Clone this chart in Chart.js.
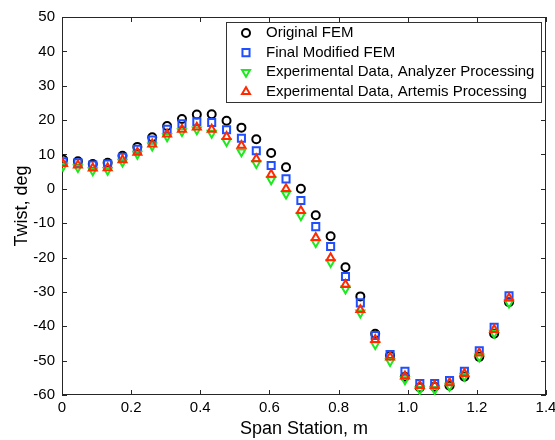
<!DOCTYPE html>
<html><head><meta charset="utf-8">
<script src="https://cdn.jsdelivr.net/npm/chart.js@4/dist/chart.umd.min.js"></script>
<style>html,body{margin:0;padding:0;background:#fff}</style>
</head><body>
<canvas id="c" width="555" height="440" style="display:block"></canvas>
<script>
// ---- data ----
const spanStation = [0.003,0.046,0.089,0.132,0.175,0.218,0.261,0.304,0.347,0.390,0.433,0.476,0.519,0.562,0.605,0.648,0.691,0.734,0.777,0.820,0.863,0.906,0.949,0.992,1.035,1.078,1.121,1.164,1.207,1.250,1.293];
const originalFEM = [8.5,8.0,7.2,7.6,9.6,12.2,15.0,18.3,20.3,21.6,21.7,19.8,17.8,14.4,10.4,6.3,0.0,-7.7,-13.8,-22.8,-31.3,-42.2,-48.5,-54.7,-57.8,-57.6,-57.3,-54.7,-48.9,-42.2,-33.0];
const finalModifiedFEM = [7.9,7.6,6.9,7.2,9.2,11.5,14.2,17.3,18.9,19.5,19.3,17.2,14.7,11.1,6.8,2.9,-3.4,-11.0,-16.8,-25.5,-33.2,-42.7,-48.2,-53.1,-56.7,-56.7,-55.8,-53.1,-47.1,-40.3,-31.1];
const analyzerData = [6.6,6.2,5.3,5.4,7.8,10.1,12.5,15.2,16.7,17.2,16.2,13.8,10.8,7.4,2.7,-1.5,-7.8,-15.6,-21.4,-29.1,-36.1,-45.3,-50.2,-55.5,-58.4,-58.4,-57.4,-54.5,-48.9,-42.0,-33.2];
const artemisData = [7.3,6.9,6.0,6.1,8.4,10.6,13.0,15.9,17.3,17.9,17.3,15.2,12.6,8.7,4.2,0.0,-6.4,-14.2,-20.1,-27.9,-35.2,-43.9,-49.0,-54.5,-57.3,-57.3,-56.5,-53.8,-47.8,-41.0,-31.8];
const seriesLabels = ["Original FEM","Final Modified FEM","Experimental Data, Analyzer Processing","Experimental Data, Artemis Processing"];
const xAxisTitle = "Span Station, m";
const yAxisTitle = "Twist, deg";

const FONT = "'Liberation Sans', Arial, Helvetica, sans-serif";

function pts(ys){ return spanStation.map((x,i)=>({x:x,y:ys[i]})); }

const styles = [
  {color:'#000000', pointStyle:'circle',   radius:4.0, rotation:0},
  {color:'#1f4fff', pointStyle:'rect',     radius:5.0, rotation:0},
  {color:'#1ee81e', pointStyle:'triangle', radius:4.6, rotation:180},
  {color:'#ff2a00', pointStyle:'triangle', radius:4.6, rotation:0}
];
const seriesValues = [originalFEM, finalModifiedFEM, analyzerData, artemisData];

const datasets = seriesValues.map((vals,i)=>({
  label: seriesLabels[i],
  data: pts(vals),
  showLine:false,
  pointStyle: styles[i].pointStyle,
  pointRotation: styles[i].rotation,
  pointRadius: styles[i].radius,
  pointHoverRadius: styles[i].radius,
  pointBorderWidth: 2,
  pointBorderColor: styles[i].color,
  borderColor: styles[i].color,
  pointBackgroundColor: 'rgba(0,0,0,0)',
  backgroundColor: 'rgba(0,0,0,0)',
  order: 4 - i
}));

function drawMarker(ctx, st, x, y){
  ctx.save();
  ctx.strokeStyle = st.color; ctx.lineWidth = 2;
  ctx.beginPath();
  const r = st.radius;
  if (st.pointStyle==='circle'){ ctx.arc(x,y,r,0,Math.PI*2); }
  else if (st.pointStyle==='rect'){ const s=r/Math.SQRT2; ctx.rect(x-s,y-s,2*s,2*s); }
  else {
    const rot = st.rotation*Math.PI/180;
    for (let k=0;k<3;k++){
      const a = rot - Math.PI/2 + k*2*Math.PI/3;
      const px = x + Math.cos(a)*r, py = y + Math.sin(a)*r;
      if(k===0) ctx.moveTo(px,py); else ctx.lineTo(px,py);
    }
    ctx.closePath();
  }
  ctx.stroke();
  ctx.restore();
}

const framePlugin = {
  id:'frame',
  beforeDatasetsDraw(chart){
    const {ctx, chartArea:a, scales:{x,y}} = chart;
    ctx.save();
    ctx.strokeStyle='#262626'; ctx.lineWidth=1;
    ctx.strokeRect(Math.round(a.left)+0.5, Math.round(a.top)+0.5, Math.round(a.right-a.left)-1, Math.round(a.bottom-a.top)-1);
    const tl=5;
    ctx.beginPath();
    x.ticks.forEach(t=>{ const p=Math.round(x.getPixelForValue(t.value))+0.5;
      ctx.moveTo(p,a.bottom); ctx.lineTo(p,a.bottom-tl); ctx.moveTo(p,a.top); ctx.lineTo(p,a.top+tl); });
    y.ticks.forEach(t=>{ const p=Math.round(y.getPixelForValue(t.value))+0.5;
      ctx.moveTo(a.left,p); ctx.lineTo(a.left+tl,p); ctx.moveTo(a.right,p); ctx.lineTo(a.right-tl,p); });
    ctx.stroke();
    ctx.restore();
  }
};

const legendPlugin = {
  id:'boxLegend',
  afterDatasetsDraw(chart, args, o){
    const ctx = chart.ctx;
    ctx.save();
    ctx.fillStyle='#fff';
    ctx.fillRect(o.left, o.top, o.width, o.height);
    ctx.strokeStyle='#333'; ctx.lineWidth=1;
    ctx.strokeRect(o.left+0.5, o.top+0.5, o.width, o.height);
    ctx.font = o.fontSize+'px '+FONT;
    ctx.fillStyle='#000'; ctx.textBaseline='middle'; ctx.textAlign='left';
    seriesLabels.forEach((lab,i)=>{
      const yy = o.top + o.firstRow + i*o.rowH;
      drawMarker(ctx, styles[i], o.left + o.markerX, yy);
      ctx.fillText(lab, o.left + o.textX, yy);
    });
    ctx.restore();
  }
};

new Chart(document.getElementById('c'), {
  type:'scatter',
  data:{datasets},
  plugins:[framePlugin, legendPlugin],
  options:{
    responsive:false, animation:false, events:[],
    layout:{padding:{top:17,right:9,left:0,bottom:0}},
    plugins:{
      legend:{display:false}, tooltip:{enabled:false},
      boxLegend:{left:226,top:22,width:315,height:80,firstRow:11,rowH:19.6,markerX:20,textX:40,fontSize:15}
    },
    scales:{
      x:{
        type:'linear', min:0, max:1.4,
        ticks:{stepSize:0.2, color:'#000', font:{family:FONT,size:15}, padding:4, maxRotation:0},
        grid:{drawOnChartArea:false, drawTicks:false},
        border:{display:false},
        title:{display:true, text:xAxisTitle, color:'#000', font:{family:FONT,size:18}, padding:{top:0,bottom:0}},
        afterFit(s){ s.height = 45; s.paddingLeft = 0; s.paddingRight = 0; }
      },
      y:{
        type:'linear', min:-60, max:50,
        ticks:{stepSize:10, color:'#000', font:{family:FONT,size:15}, padding:7},
        grid:{drawOnChartArea:false, drawTicks:false},
        border:{display:false},
        title:{display:true, text:yAxisTitle, color:'#000', font:{family:FONT,size:18}, padding:{top:11,bottom:0}},
        afterFit(s){ s.width = 62; s.paddingTop = 0; s.paddingBottom = 0; }
      }
    }
  }
});
</script>
</body></html>
